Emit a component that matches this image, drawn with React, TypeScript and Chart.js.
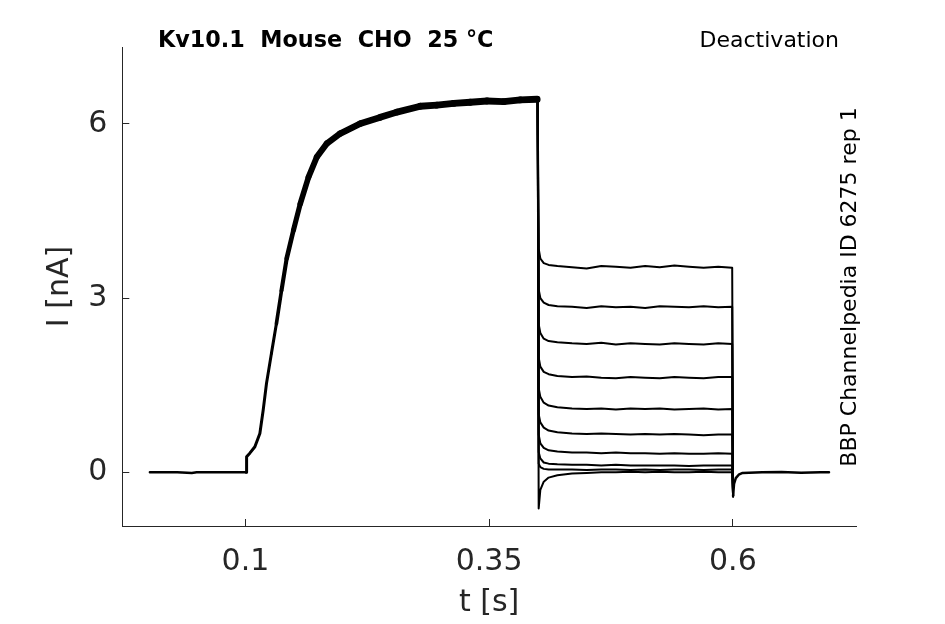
import React, { useEffect, useRef } from 'react';
import { Chart, registerables } from 'chart.js';

Chart.register(...registerables);

// holding current before the step
const baseT = [0.002, 0.03, 0.045, 0.05, 0.07, 0.1008];
const baseI = [0, 0, -0.01, 0, 0, 0];

// activation (shared by all sweeps)
const actT = [0.1008, 0.1012, 0.1045, 0.1097, 0.1148, 0.1182, 0.1216, 0.1267, 0.1318, 0.137, 0.1423, 0.1493, 0.1562, 0.1647, 0.1733, 0.1836, 0.1972, 0.2178, 0.2383, 0.2554, 0.2794, 0.2965, 0.3136, 0.3307, 0.3478, 0.365, 0.382, 0.3992];
const actI = [0, 0.27, 0.33, 0.44, 0.67, 1.07, 1.53, 2.05, 2.56, 3.13, 3.68, 4.17, 4.62, 5.08, 5.43, 5.66, 5.83, 6.0, 6.11, 6.2, 6.3, 6.32, 6.35, 6.37, 6.39, 6.38, 6.41, 6.42];

// deactivation tails, one row per sweep
const tailT = [0.3998, 0.4008, 0.4025, 0.406, 0.411, 0.42, 0.435, 0.45, 0.465, 0.48, 0.495, 0.51, 0.525, 0.54, 0.555, 0.57, 0.585, 0.5993, 0.6002];
const tailI = [
  [6.42, 3.85, 3.68, 3.6, 3.57, 3.55, 3.53, 3.51, 3.55, 3.54, 3.52, 3.55, 3.53, 3.56, 3.54, 3.52, 3.54, 3.52, -0.41],
  [6.42, 3.15, 3.0, 2.92, 2.88, 2.86, 2.85, 2.83, 2.86, 2.84, 2.85, 2.83, 2.86, 2.85, 2.84, 2.86, 2.84, 2.85, -0.41],
  [6.42, 2.55, 2.4, 2.3, 2.26, 2.24, 2.22, 2.21, 2.23, 2.2, 2.22, 2.21, 2.2, 2.22, 2.21, 2.2, 2.22, 2.21, -0.41],
  [6.42, 1.98, 1.82, 1.73, 1.69, 1.66, 1.64, 1.65, 1.63, 1.62, 1.64, 1.63, 1.62, 1.64, 1.63, 1.62, 1.64, 1.64, -0.41],
  [6.42, 1.45, 1.3, 1.2, 1.15, 1.12, 1.1, 1.09, 1.1, 1.08, 1.1, 1.09, 1.1, 1.08, 1.09, 1.1, 1.08, 1.09, -0.41],
  [6.42, 1.0, 0.86, 0.77, 0.72, 0.69, 0.67, 0.66, 0.67, 0.66, 0.65, 0.66, 0.65, 0.66, 0.65, 0.64, 0.65, 0.65, -0.41],
  [6.42, 0.65, 0.5, 0.42, 0.38, 0.36, 0.34, 0.34, 0.33, 0.34, 0.33, 0.33, 0.32, 0.33, 0.32, 0.32, 0.33, 0.32, -0.41],
  [6.42, 0.35, 0.24, 0.17, 0.15, 0.14, 0.13, 0.13, 0.12, 0.13, 0.12, 0.12, 0.12, 0.12, 0.11, 0.12, 0.12, 0.12, -0.41],
  [6.42, 0.15, 0.09, 0.06, 0.05, 0.05, 0.05, 0.04, 0.05, 0.05, 0.04, 0.05, 0.04, 0.05, 0.05, 0.04, 0.05, 0.05, -0.41],
  [6.42, -0.62, -0.3, -0.16, -0.09, -0.05, -0.02, -0.01, 0, 0, 0.01, 0, 0.01, 0, 0, 0.01, 0, 0, -0.41],
];

// return to holding after 0.6 s
const postT = [0.6002, 0.6012, 0.603, 0.606, 0.61, 0.63, 0.65, 0.67, 0.69, 0.6986];
const postI = [-0.41, -0.2, -0.1, -0.04, -0.01, 0, 0.005, -0.005, 0, 0];

const xTicks = [0.1, 0.35, 0.6];
const yTicks = [0, 3, 6];

const FONT = "'DejaVu Sans', sans-serif";
const AXIS = '#262626';

const pts = (t: number[], v: number[]) => t.map((x, i) => ({ x, y: v[i] }));

const textPlugin = {
  id: 'labels',
  afterDraw(chart: Chart) {
    const ctx = chart.ctx;
    ctx.save();
    ctx.fillStyle = '#000';
    ctx.textBaseline = 'alphabetic';
    ctx.font = `bold 22.3px ${FONT}`;
    ctx.textAlign = 'left';
    ctx.fillText('Kv10.1  Mouse  CHO  25 °C', 158, 46.5);
    ctx.font = `22px ${FONT}`;
    ctx.textAlign = 'right';
    ctx.fillText('Deactivation', 839, 46.5);
    ctx.translate(856, 287);
    ctx.rotate(-Math.PI / 2);
    ctx.textAlign = 'center';
    ctx.fillText('BBP Channelpedia ID 6275 rep 1', 0, 0);
    ctx.restore();
  },
};

export default function App() {
  const canvasRef = useRef<HTMLCanvasElement | null>(null);

  useEffect(() => {
    if (!canvasRef.current) return;
    const line = (data: { x: number; y: number }[], width: number) => ({
      data,
      borderColor: '#000',
      borderWidth: width,
      pointRadius: 0,
      tension: 0,
      fill: false,
      borderJoinStyle: 'round' as const,
      borderCapStyle: 'round' as const,
    });
    const act: any = line(pts(actT, actI), 3);
    // noise band gets wider with current
    act.segment = {
      borderWidth: (c: any) => 3 + 1.0 * Math.max(0, c.p1.parsed.y - 2.5),
    };
    const datasets: any[] = [
      line(pts(baseT, baseI), 2.5),
      act,
      ...tailI.map((v) => line(pts(tailT, v), 2)),
      line(pts(postT, postI), 2.5),
    ];

    const c = new Chart(canvasRef.current, {
      type: 'line',
      data: { datasets },
      options: {
        responsive: false,
        animation: false,
        layout: { padding: { top: 47, right: 89, left: 0, bottom: 0 } },
        plugins: { legend: { display: false }, tooltip: { enabled: false } },
        scales: {
          x: {
            type: 'linear',
            min: -0.0263,
            max: 0.7263,
            afterBuildTicks: (s: any) => { s.ticks = xTicks.map((value) => ({ value })); },
            afterFit: (s: any) => { s.height = 98; },
            ticks: {
              color: AXIS,
              font: { family: FONT, size: 30 },
              padding: 25,
              maxRotation: 0,
              callback: (v: any) => String(v),
            },
            grid: { drawOnChartArea: false, drawTicks: true, tickLength: -7, tickColor: AXIS, tickWidth: 1 },
            border: { display: true, color: AXIS, width: 1 },
            title: { display: true, text: 't [s]', color: AXIS, font: { family: FONT, size: 30 }, padding: { top: 0, bottom: 3 } },
          },
          y: {
            type: 'linear',
            min: -0.923,
            max: 7.32,
            afterBuildTicks: (s: any) => { s.ticks = yTicks.map((value) => ({ value })); },
            afterFit: (s: any) => { s.width = 122.3; },
            ticks: {
              color: AXIS,
              font: { family: FONT, size: 30 },
              padding: 22,
              callback: (v: any) => String(v),
            },
            grid: { drawOnChartArea: false, drawTicks: true, tickLength: -7, tickColor: AXIS, tickWidth: 1 },
            border: { display: true, color: AXIS, width: 1 },
            title: { display: true, text: 'I [nA]', color: AXIS, font: { family: FONT, size: 30 }, padding: { top: 42, bottom: 0 } },
          },
        },
      },
      plugins: [textPlugin],
    });
    return () => { c.destroy(); };
  }, []);

  return (
    <div style={{ position: 'absolute', left: 0, top: 0, width: 945, height: 624, background: '#fff' }}>
      <canvas ref={canvasRef} width={945} height={624} />
    </div>
  );
}
